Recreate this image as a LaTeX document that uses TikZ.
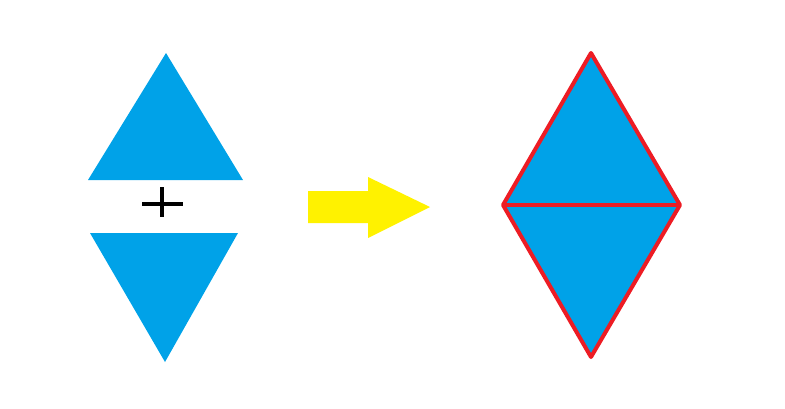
\documentclass[tikz,border=0pt]{standalone}
\usepackage{xcolor}
\definecolor{paintblue}{HTML}{00A2E8}
\definecolor{paintyellow}{HTML}{FFF200}
\definecolor{paintred}{HTML}{ED1C24}

\begin{document}
\begin{tikzpicture}[
    x=1pt, y=-1pt,
    piece/.style={fill=paintblue, draw=none},
    joined/.style={fill=paintblue, draw=paintred, line width=4pt, line join=round},
    plussign/.style={draw=black, line width=3.5pt},
    bigarrow/.style={fill=paintyellow, draw=none}
]
\useasboundingbox (0,0) rectangle (785,408);
% left: two separate triangles
\fill[piece] (166,53) -- (243,180) -- (88,180) -- cycle;
\fill[piece] (90,233) -- (238,233) -- (165,362) -- cycle;
\draw[plussign] (142,204) -- (183,204);
\draw[plussign] (162,187) -- (162,217);
% yellow arrow
\fill[bigarrow] (308,191) -- (368,191) -- (368,177) -- (430,207) -- (368,238) -- (368,223) -- (308,223) -- cycle;
% right: joined diamond
\draw[joined] (591,53) -- (680,205) -- (591,357) -- (503,205) -- cycle;
\draw[paintred, line width=4pt] (503,205) -- (680,205);
\end{tikzpicture}
\end{document}
